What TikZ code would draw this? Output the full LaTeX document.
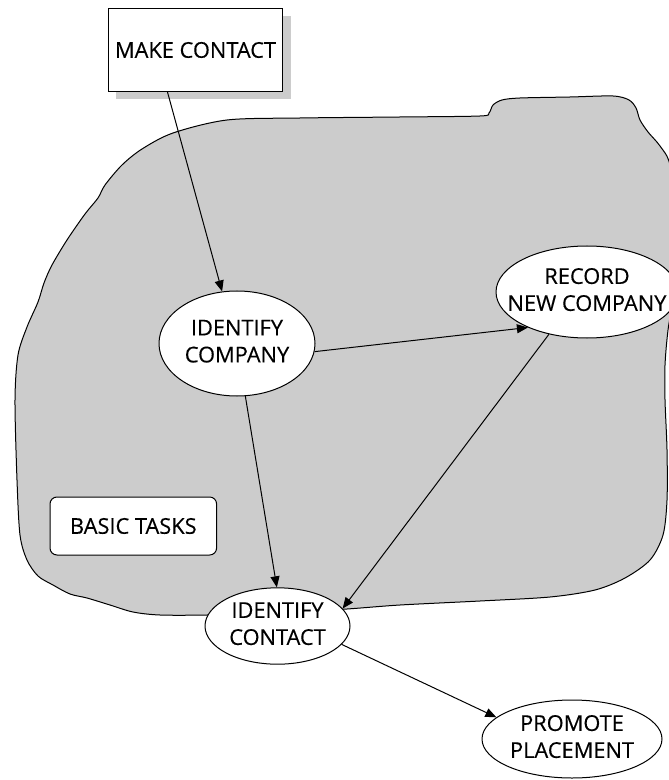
\documentclass[tikz,border=0pt]{standalone}
\usepackage{fontspec}
\setmainfont{Open Sans}[FakeBold=0.3]
\usetikzlibrary{shapes.geometric,arrows.meta,backgrounds,shadows}

\definecolor{areagray}{HTML}{CCCCCC}

% two-line label that does not widen the ellipse around it
\newcommand{\tasklabel}[1]{\makebox[0pt]{\begin{tabular}{@{}c@{}}#1\end{tabular}}}

\tikzset{
    process/.style={ellipse, draw, line width=0.5pt, fill=white, inner sep=0pt},
    flow/.style={-{Triangle[length=5.5pt, width=4.5pt]}, line width=0.5pt},
}

\begin{document}
\begin{tikzpicture}[x=0.5pt, y=-0.5pt,
    every node/.style={font=\fontsize{10.9}{13.5}\selectfont}]
    \useasboundingbox (0,0) rectangle (668,780);

    \node[draw, fill=white, line width=0.6pt, minimum width=85.5pt, minimum height=41.5pt,
        drop shadow={shadow xshift=4pt, shadow yshift=-4pt, fill=areagray, opacity=1}]
        (make) at (195.5,50) {MAKE CONTACT};
    \node[process, minimum width=78pt, minimum height=52.5pt] (idcomp) at (237,343.5)
        {\tasklabel{IDENTIFY\\COMPANY}};
    \node[process, minimum width=91pt, minimum height=46pt] (recnew) at (587,292)
        {\tasklabel{RECORD\\NEW COMPANY}};
    \node[process, minimum width=72.5pt, minimum height=34pt] (idcont) at (277.5,626)
        {\tasklabel{IDENTIFY\\CONTACT}};
    \node[process, minimum width=90pt, minimum height=39pt] (promote) at (572,739)
        {\tasklabel{PROMOTE\\PLACEMENT}};
    \node[draw, fill=white, rounded corners=3.5pt, line width=0.5pt,
        minimum width=83.3pt, minimum height=29pt] (basic) at (133.3,526) {BASIC TASKS};

    % the grey area behind the tasks
    \begin{scope}[on background layer]
        \draw[fill=areagray, line width=0.5pt] plot[smooth cycle, tension=0.5] coordinates {
            (227,120) (300,118) (400,117) (480,116) (489,113) (493,105) (502,100)
            (520,98) (570,97) (613,96) (629,100) (636,108) (640,120) (648,132)
            (660,146) (670,165) (676,220) (674,290) (668,330) (665,365) (665,400)
            (667,450) (667,500) (663,535) (650,560) (625,578) (595,590) (550,597)
            (480,601) (400,605) (347,609) (280,613) (207,615) (160,615) (133,612)
            (110,605) (87,598) (70,594) (53,585) (38,576) (27,560) (20,535)
            (17,480) (15,400) (18,355) (27,327) (38,302) (44,283) (52,265)
            (67,240) (85,214) (98,198) (105,185) (122,165) (142,149) (173,133)};
    \end{scope}

    \draw[flow] ([xshift=-14pt]make.south) -- (idcomp.106);
    \draw[flow] (idcomp.-6) -- (recnew.211);
    \draw[flow] (idcomp.279) -- (idcont.91);
    \draw[flow] (recnew.228) -- (idcont.15);
    \draw[flow] (idcont.344) -- (promote.164);
\end{tikzpicture}
\end{document}
